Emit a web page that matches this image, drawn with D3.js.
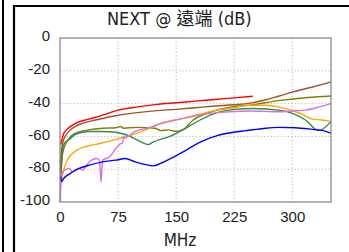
<!DOCTYPE html>
<html>
<head>
<meta charset="utf-8">
<script src="https://cdn.jsdelivr.net/npm/d3@7"></script>
<style>
  body { margin: 0; background: #fff; }
  svg { display: block; }
</style>
</head>
<body>
<div id="chart"></div>
<script>
// title / axis text
var chartTitle = "NEXT @ 遠端 (dB)";
var xLabel = "MHz";
var xTicks = [0, 75, 150, 225, 300];
var yTicks = [0, -20, -40, -60, -80, -100];

// series, [MHz, dB]
var redData = [[1,-65],[2,-63],[5,-58],[12,-54.5],[20,-52],[37,-49.5],[55,-47],[75,-44],[100,-42],[125,-40.5],[150,-39.5],[175,-38.5],[200,-37.5],[225,-36.5],[249,-35.5]];
var brownData = [[1,-81],[1.5,-71],[3.5,-64],[8,-59],[16,-55],[29,-52],[46,-50],[72,-47.4],[100,-45.5],[125,-44.3],[150,-43.5],[175,-42.5],[200,-41.5],[225,-40.7],[246,-39.7],[265,-37.8],[282,-35.5],[300,-33],[325,-30],[350,-26.8]];
var oliveData = [[1,-86],[3.5,-70],[12,-61],[20,-58],[37,-56],[55,-55],[72,-54.7],[78,-54],[82,-55],[100,-54.5],[123,-55],[130,-56.5],[140,-56],[150,-57],[160,-55.5],[172,-50],[190,-45.9],[203,-43.9],[224,-41.9],[246,-40.9],[282,-38.2],[320,-36.3],[350,-35.4]];
var greenData = [[1,-82],[3,-70],[6,-64],[12,-61.8],[20,-58.7],[37,-57],[55,-57],[72,-57.5],[85,-59],[95,-61],[105,-63.5],[114,-65],[120,-63.5],[142,-60],[159,-56],[181,-50],[203,-45.5],[225,-43.5],[250,-43],[282,-44],[300,-46],[317,-50],[334,-56.5],[350,-51]];
var orangeData = [[2,-86],[5,-80],[10,-74],[20,-69],[35,-66],[50,-64.5],[75,-61.5],[100,-58],[116,-55],[130,-52],[159,-49],[180,-46.5],[203,-44],[225,-42.5],[246,-41],[265,-41],[282,-42],[295,-43.5],[304,-45],[315,-47],[326,-49.5],[338,-50],[350,-51]];
var pinkData = [[0.5,-100],[1,-91],[3,-82.5],[6,-80.5],[12,-79.5],[16,-81.5],[20,-80.5],[25,-79.5],[29,-80.5],[38,-75.5],[47,-73.5],[51,-74.5],[53,-88],[55,-74.5],[64,-72.5],[72,-67.5],[78,-64.5],[81,-64],[82,-60],[83,-61],[97,-57],[116,-54.5],[125,-53],[159,-49],[203,-45.5],[246,-44.5],[282,-45],[300,-44.5],[317,-44],[335,-42],[350,-40]];
var blueData = [[1,-84.5],[2,-87.5],[5,-85.5],[12,-83],[20,-80.5],[38,-77.5],[55,-75.5],[72,-74.5],[84,-73.5],[97,-75.5],[114,-77.5],[120,-78],[130,-76.5],[149,-72],[159,-69.5],[175,-65],[181,-63.5],[203,-59.5],[224,-57.5],[240,-56.5],[261,-55.3],[282,-54.5],[304,-54.7],[326,-55.7],[340,-56.5],[350,-58]];

var seriesList = [
  { data: oliveData, color: "#808000" },
  { data: greenData, color: "#2e8b57" },
  { data: orangeData, color: "#ffa500" },
  { data: pinkData, color: "#da70d6" },
  { data: blueData, color: "#0000ff" },
  { data: brownData, color: "#a0522d" },
  { data: redData, color: "#ff0000" }
];

function drawChart() {
  var width = 349, height = 252;
  var plotLeft = 60, plotRight = 331, plotTop = 38, plotBottom = 202;

  var svg = d3.select("#chart").append("svg")
    .attr("width", width)
    .attr("height", height);

  // panel frames
  svg.append("line").attr("x1", 3).attr("x2", 3).attr("y1", 0).attr("y2", height)
    .attr("stroke", "#000").attr("stroke-width", 2);
  svg.append("path").attr("d", "M14," + height + "V6H" + width)
    .attr("fill", "none").attr("stroke", "#000").attr("stroke-width", 2.2);

  var x = d3.scaleLinear().domain([0, 350]).range([plotLeft, plotRight]);
  var y = d3.scaleLinear().domain([-100, 0]).range([plotBottom, plotTop]);

  // grid
  svg.append("g").selectAll("line").data(xTicks.slice(1)).enter().append("line")
    .attr("x1", d => x(d)).attr("x2", d => x(d)).attr("y1", plotTop).attr("y2", plotBottom)
    .attr("stroke", "#b8b8b8").attr("stroke-dasharray", "1.2,2.2");
  svg.append("g").selectAll("line").data(yTicks.slice(1, -1)).enter().append("line")
    .attr("x1", plotLeft).attr("x2", plotRight).attr("y1", d => y(d)).attr("y2", d => y(d))
    .attr("stroke", "#b8b8b8").attr("stroke-dasharray", "1.2,2.2");

  // curves
  var line = d3.line().x(d => x(d[0])).y(d => y(d[1])).curve(d3.curveMonotoneX);
  svg.append("g").selectAll("path").data(seriesList).enter().append("path")
    .attr("d", d => line(d.data))
    .attr("fill", "none")
    .attr("stroke", d => d.color)
    .attr("stroke-width", 1.4);

  // plot border
  svg.append("rect").attr("x", plotLeft).attr("y", plotTop)
    .attr("width", plotRight - plotLeft).attr("height", plotBottom - plotTop)
    .attr("fill", "none").attr("stroke", "#808080").attr("stroke-width", 1.2);

  // axes (plain hyphen for the minus, like the original)
  var yAxis = svg.append("g").attr("transform", "translate(" + plotLeft + ",0)")
    .call(d3.axisLeft(y).tickValues(yTicks).tickFormat(d => String(d)).tickSize(0).tickPadding(10));
  var xAxis = svg.append("g").attr("transform", "translate(0," + plotBottom + ")")
    .call(d3.axisBottom(x).tickValues(xTicks).tickFormat(d => String(d)).tickSize(0).tickPadding(9));
  [yAxis, xAxis].forEach(function (g) {
    g.select(".domain").remove();
    g.selectAll("text")
      .attr("font-family", "'Liberation Sans', Arial, sans-serif")
      .attr("font-size", 15)
      .attr("fill", "#222");
  });
  yAxis.selectAll("text").attr("dy", "0.18em");

  svg.append("text")
    .attr("x", 180).attr("y", 246)
    .attr("text-anchor", "middle")
    .attr("font-family", "'Liberation Sans Narrow', 'DejaVu Sans Condensed', sans-serif")
    .attr("font-size", 17)
    .attr("fill", "#222")
    .text(xLabel);

  svg.append("text")
    .attr("x", 107).attr("y", 25)
    .attr("font-family", "'Liberation Sans Narrow', 'DejaVu Sans Condensed', 'Noto Sans CJK TC', sans-serif")
    .attr("font-size", 18)
    .attr("fill", "#222")
    .text(chartTitle);
}

drawChart();
</script>
</body>
</html>
